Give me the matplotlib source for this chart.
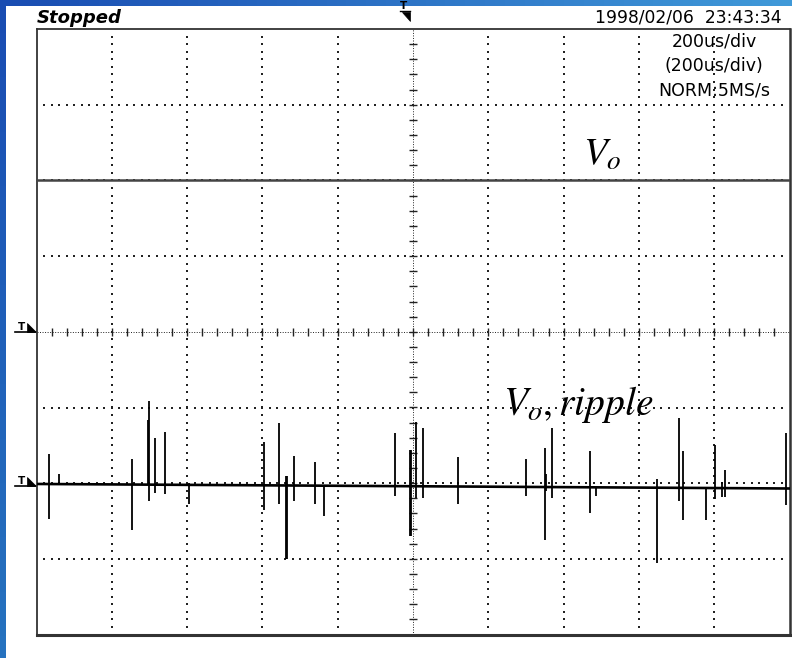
import numpy as np
import matplotlib
matplotlib.use("Agg")
import matplotlib.pyplot as plt
from matplotlib.patches import Rectangle, Polygon

plt.rcParams['mathtext.fontset'] = 'stix'

# ---------------- data (time in us, amplitude in divisions) ----------------
time_div_us = 200
n_xdiv, n_ydiv = 10, 8

# V_o trace (flat DC level)
vo_t = [0, 2000]
vo_v = [2.0, 2.0]

# ripple trace baseline
base_t = [0, 1000, 2000]
base_v = [-2.01, -2.04, -2.07]

# switching spikes on the ripple trace
spike_t = [32, 59, 253, 295, 298, 315.5, 340.5, 406, 603.5, 643, 662.7, 665,
           685, 740.5, 764.4, 953, 991, 994, 1008, 1026, 1120, 1300, 1350.7,
           1352, 1370, 1469, 1485, 1649, 1706, 1718, 1777.5, 1801, 1820,
           1829.5, 1991]
spike_hi = [-1.62, -1.88, -1.68, -1.16, -0.91, -1.40, -1.32, -2.00, -1.46,
            -1.20, -1.90, -1.90, -1.64, -1.72, -2.04, -1.34, -1.56, -1.56,
            -1.19, -1.27, -1.66, -1.68, -1.54, -1.88, -1.27, -1.58, -2.06,
            -1.94, -1.14, -1.58, -2.07, -1.50, -1.98, -1.82, -1.34]
spike_lo = [-2.47, -2.03, -2.62, -2.03, -2.23, -2.13, -2.14, -2.27, -2.35,
            -2.27, -3.00, -3.00, -2.23, -2.27, -2.43, -2.17, -2.70, -2.70,
            -2.19, -2.19, -2.27, -2.17, -2.75, -2.10, -2.19, -2.39, -2.17,
            -3.06, -2.23, -2.49, -2.49, -2.21, -2.18, -2.18, -2.29]

header_left = "Stopped"
header_right = "1998/02/06  23:43:34"
settings = ["200us/div", "(200us/div)", "NORM:5MS/s"]
label_vo = r"$V_o$"
label_ripple = r"$V_o, ripple$"

# ---------------- figure ----------------
W, H = 792, 658
fig = plt.figure(figsize=(W / 100, H / 100), dpi=100)

# background / decoration layer in pixel coordinates
bg = fig.add_axes([0, 0, 1, 1], zorder=0)
bg.set_xlim(0, W)
bg.set_ylim(H, 0)
bg.axis('off')
yy, xx = np.mgrid[0:1:60j, 0:1:80j]
grad = np.dstack([0.10 + 0.15 * xx * (1 - yy) + 0.05 * yy,
                  0.30 + 0.30 * xx * (1 - yy) + 0.15 * yy,
                  0.70 + 0.15 * xx * (1 - yy) + 0.05 * yy])
bg.imshow(np.clip(grad, 0, 1), extent=[0, W, H, 0], aspect='auto', zorder=0)
bg.add_patch(Rectangle((6, 6), W - 6, H - 6, facecolor='white',
                       edgecolor='none', zorder=1))

bg.text(37, 18, header_left, fontsize=13, fontweight='bold', style='italic',
        ha='left', va='center', color='black', zorder=3)
bg.text(782, 18, header_right, fontsize=12.3, ha='right', va='center',
        color='black', zorder=3)

# trigger markers
bg.text(404, 6, "T", fontsize=7.5, fontweight='bold', ha='center',
        va='center', zorder=3)
bg.plot([400, 410], [10.5, 10.5], color='black', lw=1, zorder=3)
bg.add_patch(Polygon([[402, 12], [410, 12], [410, 21]], closed=True,
                     facecolor='black', edgecolor='black', lw=0.5, zorder=3))
for ym in (332.3, 486):
    bg.text(21, ym - 5.5, "T", fontsize=7.5, fontweight='bold', ha='center',
            va='center', zorder=3)
    bg.plot([15, 36], [ym, ym], color='black', lw=1.2, zorder=3)
    bg.add_patch(Polygon([[26.5, ym - 9], [26.5, ym], [35.5, ym]],
                         closed=True, facecolor='black', edgecolor='black',
                         lw=0.5, zorder=3))

# oscilloscope screen axes
x0, x1 = 36.5, 789.5
y0, y1 = 29, 634.6
ax = fig.add_axes([x0 / W, 1 - y1 / H, (x1 - x0) / W, (y1 - y0) / H], zorder=2)
ax.set_facecolor('white')
tmax = n_xdiv * time_div_us
ax.set_xlim(0, tmax)
ax.set_ylim(-n_ydiv / 2, n_ydiv / 2)
ax.set_xticks([])
ax.set_yticks([])
for s in ax.spines.values():
    s.set_color('#333333')
    s.set_linewidth(1.3)
ax.spines['bottom'].set_linewidth(2.2)
ax.spines['right'].set_linewidth(1.8)

# dotted graticule
dot_x, dot_y = [], []
for gx in np.arange(time_div_us, tmax, time_div_us):
    if gx == tmax / 2:
        continue
    ys = np.arange(-n_ydiv / 2 + 0.1, n_ydiv / 2, 0.1)
    dot_x += [gx] * len(ys)
    dot_y += list(ys)
for gy in np.arange(-n_ydiv / 2 + 1, n_ydiv / 2, 1):
    if gy == 0:
        continue
    xs = np.arange(20, tmax, 20)
    dot_x += list(xs)
    dot_y += [gy] * len(xs)
ax.scatter(dot_x, dot_y, s=1.4, marker='s', color='#222222', linewidths=0,
           zorder=1)

# centre cross with minor ticks
ax.plot([tmax / 2, tmax / 2], [-4, 4], color='#222222', lw=0.7,
        ls=(0, (1, 1.6)), zorder=1)
ax.plot([0, tmax], [0, 0], color='#222222', lw=0.7, ls=(0, (1, 1.6)), zorder=1)
ty = np.arange(-3.8, 4.0, 0.2)
ax.plot([tmax / 2] * len(ty), ty, ls='none', marker='_', ms=5.5, mew=1,
        color='#222222', zorder=1)
tx = np.arange(40, tmax, 40)
ax.plot(tx, [0] * len(tx), ls='none', marker='|', ms=5.5, mew=1,
        color='#222222', zorder=1)

# traces
ax.plot(vo_t, vo_v, color='#444444', lw=1.8, zorder=3)
ax.plot(base_t, base_v, color='black', lw=1.9, zorder=3)
ax.vlines(spike_t, spike_lo, spike_hi, color='black', lw=1.3, zorder=3)

# settings text
for i, s in enumerate(settings):
    ax.text(1800, 3.83 - i * 0.32, s, fontsize=12.5, ha='center',
            va='center', color='black', zorder=4)

ax.text(1451, 2.21, label_vo, fontsize=28, ha='left', va='baseline',
        color='black', zorder=4)
ax.text(1240, -1.10, label_ripple, fontsize=28.5, ha='left', va='baseline',
        color='black', zorder=4)

fig.savefig("out.png", dpi=100)
